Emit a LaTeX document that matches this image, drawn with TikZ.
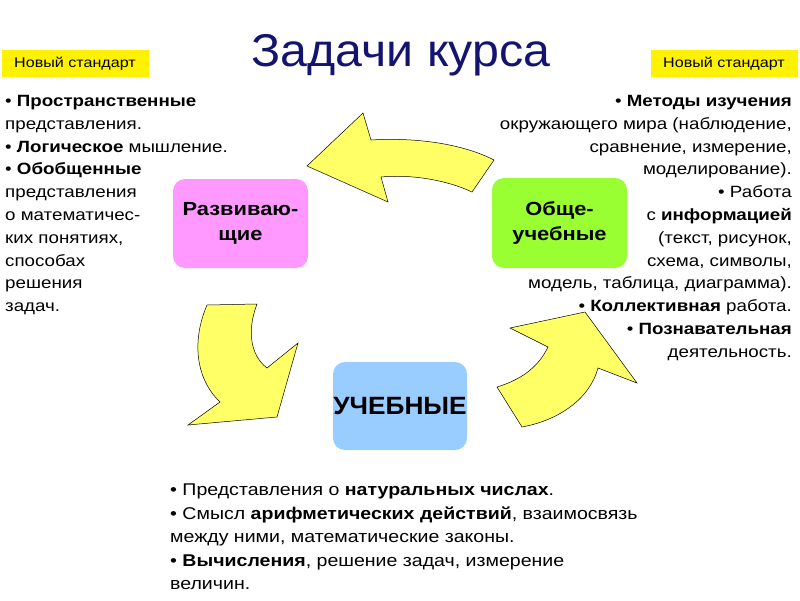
\documentclass[tikz,border=0pt]{standalone}
\usepackage{fontspec}
\setmainfont{Liberation Sans}[FakeStretch=1.15]
\newfontfamily\plainsans{Liberation Sans}[FakeStretch=1.05]
\usetikzlibrary{positioning}
\definecolor{kursblue}{RGB}{20,20,112}
\definecolor{pinkbox}{RGB}{255,153,255}
\definecolor{greenbox}{RGB}{153,255,51}
\definecolor{bluebox}{RGB}{153,204,255}
\definecolor{arrowyellow}{RGB}{255,255,102}
\tikzset{
  kindbox/.style={rounded corners=12pt, minimum width=135pt, align=center, font=\fontsize{19}{25}\selectfont\bfseries},
  stdlabel/.style={fill=yellow, minimum width=147pt, minimum height=27pt, inner sep=0pt, font=\fontsize{14}{16}\selectfont},
  tasklist/.style={inner sep=0pt, font=\fontsize{16.3}{22.8}\selectfont},
  bigarrow/.style={fill=arrowyellow, draw=black, line width=0.5pt, line join=miter}
}
\begin{document}
\begin{tikzpicture}[x=1pt,y=-1pt]
		%%%%% START %%%%%
		\useasboundingbox (0, 0) rectangle (800, 600);
		
		\node[text=kursblue, font=\plainsans\fontsize{46}{50}\selectfont] (title) at (401, 55) {Задачи курса};
		
		\node[stdlabel] (stdleft) at (75, 63.5) {Новый стандарт};
		\node[stdlabel] (stdright) at (724, 63.5) {Новый стандарт};
		
		% three kinds of tasks
		\node[kindbox, fill=pinkbox, minimum height=89pt] (razv) at (240.5, 223.5) {Развиваю-\\щие};
		\node[kindbox, fill=greenbox, minimum height=90pt] (obsh) at (559.5, 223) {Обще-\\учебные};
		\node[kindbox, fill=bluebox, minimum width=134pt, minimum height=88pt, inner sep=0pt, font=\plainsans\fontsize{25}{28}\selectfont\bfseries] (ucheb) at (400, 406) {УЧЕБНЫЕ};
		
		% arrows round the circle
		\draw[bigarrow] (307, 166) -- (363, 113) -- (371, 140) .. controls (420, 137) and (465, 145) .. (494, 160) -- (472, 192) .. controls (447, 180) and (410, 174) .. (381, 177) -- (388, 202) -- cycle;
		\draw[bigarrow] (207, 305) -- (257, 304) .. controls (247, 330) and (250, 355) .. (267, 368) -- (298, 343) -- (277, 417) -- (188, 425) -- (220, 402) .. controls (195, 378) and (192, 340) .. (207, 305) -- cycle;
		\draw[bigarrow] (497, 387) -- (522, 427) .. controls (560, 420) and (590, 398) .. (598, 368) -- (637, 383) -- (585, 312) -- (510, 328) -- (548, 347) .. controls (538, 368) and (520, 380) .. (497, 387) -- cycle;
		
		% texts
		\node[tasklist, anchor=north west, align=left] (listleft) at (5, 95) {%
			• \textbf{Пространственные}\\
			представления.\\
			• \textbf{Логическое} мышление.\\
			• \textbf{Обобщенные}\\
			представления\\
			о математичес-\\
			ких понятиях,\\
			способах\\
			решения\\
			задач.};
		\node[tasklist, anchor=north east, align=right] (listright) at (792, 95) {%
			• \textbf{Методы изучения}\\
			окружающего мира (наблюдение,\\
			сравнение, измерение,\\
			моделирование).\\
			• Работа\\
			с \textbf{информацией}\\
			(текст, рисунок,\\
			схема, символы,\\
			модель, таблица, диаграмма).\\
			• \textbf{Коллективная} работа.\ \\
			• \textbf{Познавательная}\\
			деятельность.};
		\node[tasklist, anchor=north west, align=left, font=\fontsize{17}{23.5}\selectfont] (listbottom) at (170, 484) {%
			• Представления о \textbf{натуральных числах}.\\
			• Смысл \textbf{арифметических действий}, взаимосвязь\\
			между ними, математические законы.\\
			• \textbf{Вычисления}, решение задач, измерение\\
			величин.};
		
		%%%%% END %%%%%
	\end{tikzpicture}
\end{document}
